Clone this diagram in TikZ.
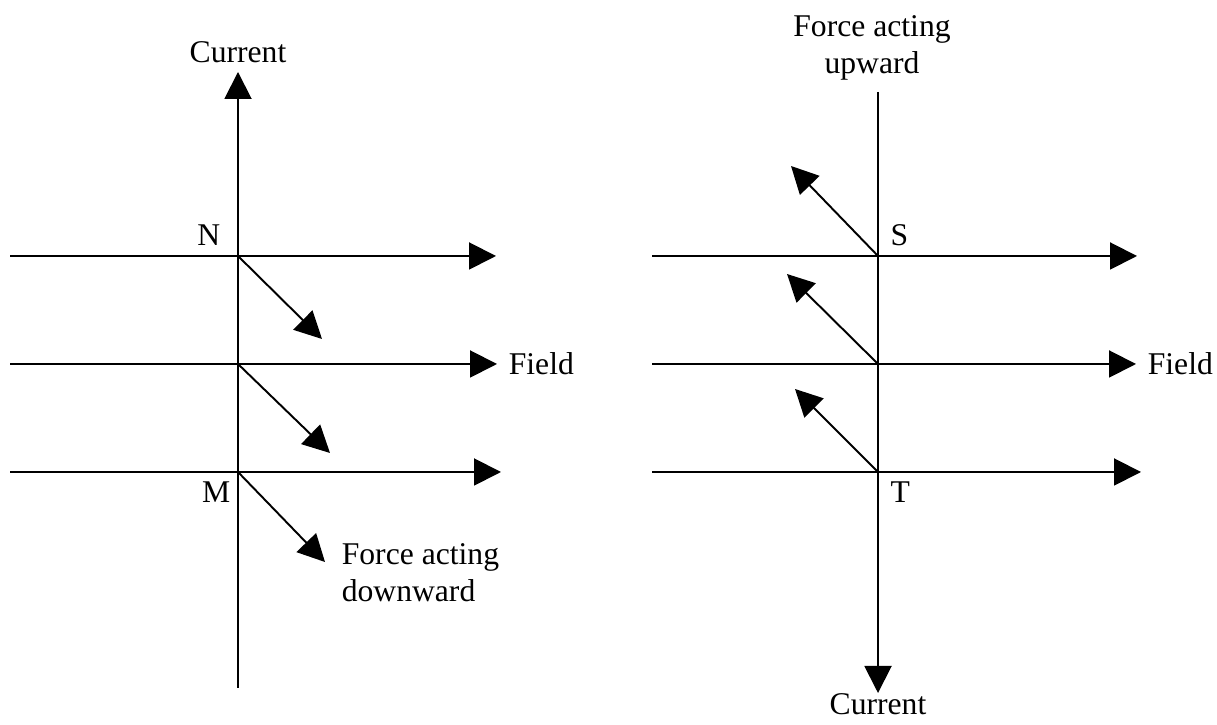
\documentclass[tikz,border=0pt]{standalone}
\usepackage{fontspec}
\setmainfont{Liberation Serif}
\usetikzlibrary{arrows.meta, positioning}

\begin{document}
\begin{tikzpicture}[line width=1.1pt, font=\fontsize{18}{21}\selectfont,
    vec/.style={-{Triangle[length=5.4mm, width=5.4mm]}},
    lbl/.style={inner sep=1pt}]
        \useasboundingbox (0,0) rectangle (24.34,14.5);

        % left picture
        \coordinate (LB) at (4.76,0.74);
        \coordinate (LT) at (4.76,13.06);
        \coordinate (N) at (4.76,9.38);
        \coordinate (LM) at (4.76,7.22);
        \coordinate (M) at (4.76,5.06);
        \coordinate (N0) at (0.2,9.38);
        \coordinate (LM0) at (0.2,7.22);
        \coordinate (M0) at (0.2,5.06);
        \coordinate (N1) at (9.92,9.38);
        \coordinate (LM1) at (9.94,7.22);
        \coordinate (M1) at (10.02,5.06);
        \coordinate (FN) at (6.44,7.72);
        \coordinate (FLM) at (6.6,5.44);
        \coordinate (FM) at (6.5,3.26);

        \path[vec] (LB) edge (LT);
        \path[vec] (N0) edge (N1);
        \path[vec] (LM0) edge (LM1);
        \path[vec] (M0) edge (M1);
        \path[vec] (N) edge (FN);
        \path[vec] (LM) edge (FLM);
        \path[vec] (M) edge (FM);

        \node[above = 0.05cm of LT] (curL) {Current};
        \node[lbl, above left = 0.15cm and 0.3cm of N] (labN) {N};
        \node[lbl, below left = 0.15cm and 0.1cm of M] (labM) {M};
        \node[right = 0.1cm of LM1] (fieldL) {Field};
        \node[anchor=west, align=left] (down) at (6.7,3.05) {Force acting\\downward};

        % right picture
        \coordinate (RT) at (17.56,12.66);
        \coordinate (RB) at (17.56,0.64);
        \coordinate (S) at (17.56,9.38);
        \coordinate (RM) at (17.56,7.22);
        \coordinate (T) at (17.56,5.06);
        \coordinate (S0) at (13.04,9.38);
        \coordinate (RM0) at (13.04,7.22);
        \coordinate (T0) at (13.04,5.06);
        \coordinate (S1) at (22.74,9.38);
        \coordinate (RM1) at (22.72,7.22);
        \coordinate (T1) at (22.82,5.06);
        \coordinate (FS) at (15.82,11.18);
        \coordinate (FRM) at (15.74,9.02);
        \coordinate (FT) at (15.9,6.72);

        \path[vec] (RT) edge (RB);
        \path[vec] (S0) edge (S1);
        \path[vec] (RM0) edge (RM1);
        \path[vec] (T0) edge (T1);
        \path[vec] (S) edge (FS);
        \path[vec] (RM) edge (FRM);
        \path[vec] (T) edge (FT);

        \node[inner sep=0pt, below = 0cm of RB] (curR) {Current};
        \node[lbl, above right = 0.15cm and 0.2cm of S] (labS) {S};
        \node[lbl, below right = 0.15cm and 0.2cm of T] (labT) {T};
        \node[right = 0.1cm of RM1] (fieldR) {Field};
        \node[align=center] (up) at (17.44,13.54) {Force acting\\upward};
    \end{tikzpicture}
\end{document}
